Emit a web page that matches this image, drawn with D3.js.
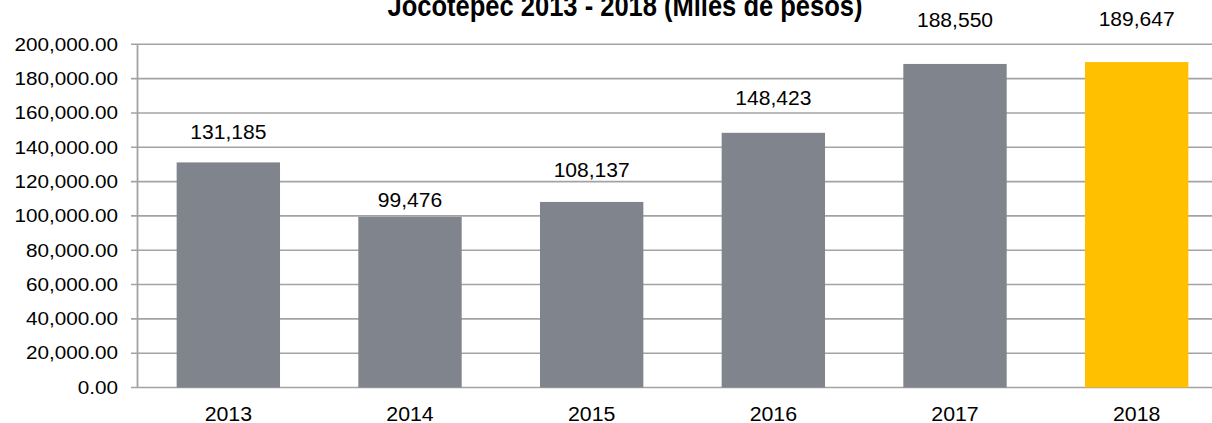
<!DOCTYPE html>
<html>
<head>
<meta charset="utf-8">
<script src="https://cdn.jsdelivr.net/npm/d3@7"></script>
<style>
  html, body { margin: 0; padding: 0; background: #fff; overflow: hidden; }
  svg { display: block; font-family: "Liberation Sans", Arial, sans-serif; }
</style>
</head>
<body>
<svg id="chart" width="1212" height="423"></svg>
<script>
// ---- data ----
const years = ["2013", "2014", "2015", "2016", "2017", "2018"];
const values = [131185, 99476, 108137, 148423, 188550, 189647];
const valueLabels = ["131,185", "99,476", "108,137", "148,423", "188,550", "189,647"];
const yTicks = [0, 20000, 40000, 60000, 80000, 100000, 120000, 140000, 160000, 180000, 200000];
const title = "Jocotepec 2013 - 2018 (Miles de pesos)";

// ---- layout / style ----
const W = 1212, H = 423;
const plot = { left: 137.5, right: 1227.5, top: 44.3, bottom: 387.5 };
const labelGap = [23, 10, 25, 28, 37, 36]; // distance of each label baseline above its bar
const barColors = ["#80858d", "#80858d", "#80858d", "#80858d", "#80858d", "#ffc000"];
const gridColor = "#a3a3a3";

const svg = d3.select("#chart");

const x = d3.scaleBand().domain(years).range([plot.left, plot.right])
  .paddingInner(0.431).paddingOuter(0.2155);
const y = d3.scaleLinear().domain([0, 200000]).range([plot.bottom, plot.top]);

// gridlines
svg.append("g").selectAll("line").data(yTicks).join("line")
  .attr("x1", plot.left - 6.5).attr("x2", W)
  .attr("y1", d => y(d)).attr("y2", d => y(d))
  .attr("stroke", gridColor).attr("stroke-width", 1.6);

// y axis line
svg.append("line")
  .attr("x1", plot.left).attr("x2", plot.left)
  .attr("y1", y(200000)).attr("y2", y(0))
  .attr("stroke", gridColor).attr("stroke-width", 1.8);

// y tick labels
const fmt = d3.format(",.2f");
svg.append("g").selectAll("text").data(yTicks).join("text")
  .attr("transform", d => `translate(118,${y(d) + 6.3}) scale(1.15,1)`)
  .attr("text-anchor", "end")
  .attr("font-size", 18)
  .attr("fill", "#000")
  .text(d => fmt(d));

// bars
const data = years.map((yr, i) => ({ yr, v: values[i], lab: valueLabels[i], i }));
svg.append("g").selectAll("rect").data(data).join("rect")
  .attr("x", d => x(d.yr))
  .attr("width", x.bandwidth())
  .attr("y", d => y(d.v))
  .attr("height", d => y(0) - y(d.v))
  .attr("fill", d => barColors[d.i]);

// value labels
svg.append("g").selectAll("text").data(data).join("text")
  .attr("transform", d => `translate(${x(d.yr) + x.bandwidth() / 2},${y(d.v) - labelGap[d.i]}) scale(1.08,1)`)
  .attr("text-anchor", "middle")
  .attr("font-size", 19.5)
  .attr("fill", "#000")
  .text(d => d.lab);

// x labels
svg.append("g").selectAll("text").data(years).join("text")
  .attr("transform", d => `translate(${x(d) + x.bandwidth() / 2},420.5) scale(1.04,1)`)
  .attr("text-anchor", "middle")
  .attr("font-size", 20.5)
  .attr("fill", "#000")
  .text(d => d);

// title (its upper part is clipped by the top edge, as in the reference)
svg.append("text")
  .attr("transform", `translate(625,15.5) scale(0.88,1)`)
  .attr("text-anchor", "middle")
  .attr("font-size", 29)
  .attr("font-weight", "bold")
  .attr("fill", "#000")
  .text(title);
</script>
</body>
</html>
